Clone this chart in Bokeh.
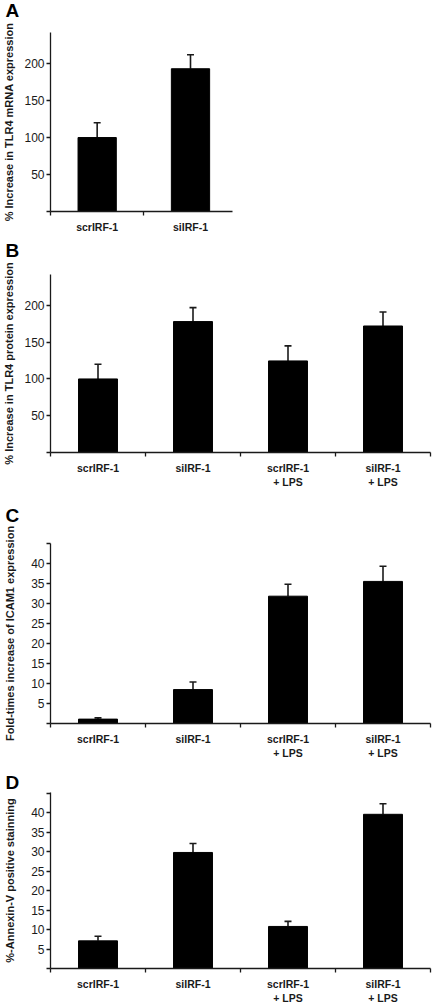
from bokeh.plotting import figure
from bokeh.models import FixedTicker, Whisker, TeeHead, ColumnDataSource, Range1d
from bokeh.layouts import column
from bokeh.embed import file_html
from bokeh.resources import INLINE
import numpy as np

# ---- data ----
labels_A = ["scrIRF-1", "siIRF-1"]
labels_4 = ["scrIRF-1", "siIRF-1", "scrIRF-1\n+ LPS", "siIRF-1\n+ LPS"]

tlr4_mrna = [100, 193]
tlr4_mrna_err = [120, 212]

tlr4_protein = [100, 178, 124.5, 172]
tlr4_protein_err = [120, 197, 145, 191]

icam1 = [1.1, 8.5, 31.9, 35.6]
icam1_err = [1.4, 10.4, 34.9, 39.4]

annexin = [7.1, 29.8, 10.8, 39.6]
annexin_err = [8.3, 32.1, 12.1, 42.3]

ticks_pct = [0, 50, 100, 150, 200]
ticks_fold = [0, 5, 10, 15, 20, 25, 30, 35, 40, 45]

FONT = "Liberation Sans"
INK = "#1a1a1a"


def panel(letter, labels, vals, errs, ylabel, y_end, yticks, hidden, width, height,
          mb_top, mb_bottom, x_end, lab_standoff, title_standoff, margin_top):
    n = len(labels)
    xs = np.arange(n) + 0.5
    p = figure(width=width, height=height, output_backend="svg", toolbar_location=None,
               x_range=Range1d(0, x_end), y_range=Range1d(0, y_end),
               min_border_left=45, min_border_right=width - 45 - (187 if n == 2 else 385),
               min_border_top=mb_top, min_border_bottom=mb_bottom,
               margin=(margin_top, 0, 0, 0))
    p.outline_line_color = None
    p.grid.visible = False
    p.background_fill_color = "white"
    p.border_fill_color = None

    p.title.text = letter
    p.title.align = "left"
    p.title.offset = -45
    p.title.standoff = title_standoff
    p.title.text_font = FONT
    p.title.text_font_style = "bold"
    p.title.text_font_size = "19px"
    p.title.text_color = "black"

    src = ColumnDataSource(dict(x=xs, v=vals, e=errs))
    p.vbar(x="x", top="v", bottom=0, width=0.41, source=src,
           fill_color="black", line_color="black")
    w = Whisker(base="x", lower="v", upper="e", source=src, dimension="height",
                line_color=INK, line_width=1.6,
                upper_head=TeeHead(size=7, line_color=INK, line_width=1.6),
                lower_head=None)
    p.add_layout(w)

    # x axis
    xa = p.xaxis[0]
    xa.ticker = FixedTicker(ticks=list(xs), minor_ticks=list(range(n + 1)))
    xa.major_label_overrides = {float(x): lab for x, lab in zip(xs, labels)}
    xa.major_tick_out = 0
    xa.major_tick_in = 0
    xa.minor_tick_out = 4
    xa.minor_tick_in = 0
    xa.major_label_standoff = 5
    xa.major_label_text_font = FONT
    xa.major_label_text_font_style = "bold"
    xa.major_label_text_font_size = "10.5px"
    xa.major_label_text_color = INK
    xa.axis_line_color = INK
    xa.axis_line_width = 1.3
    xa.minor_tick_line_color = INK
    xa.minor_tick_line_width = 1.3

    # y axis
    ya = p.yaxis[0]
    ya.ticker = FixedTicker(ticks=yticks, minor_ticks=[])
    ya.major_label_overrides = {t: "" for t in hidden}
    ya.major_tick_out = 4
    ya.major_tick_in = 0
    ya.major_label_standoff = 2
    ya.major_label_text_font = FONT
    ya.major_label_text_font_size = "12px"
    ya.major_label_text_color = INK
    ya.axis_line_color = INK
    ya.axis_line_width = 1.3
    ya.major_tick_line_color = INK
    ya.major_tick_line_width = 1.3
    ya.axis_label = ylabel
    ya.axis_label_text_font = FONT
    ya.axis_label_text_font_style = "bold"
    ya.axis_label_text_font_size = "11px"
    ya.axis_label_text_color = INK
    ya.axis_label_standoff = lab_standoff
    return p


pA = panel("A", labels_A, tlr4_mrna, tlr4_mrna_err, "% Increase in TLR4 mRNA expression",
           242, ticks_pct, [0], 236, 250, 45, 24, 1.95, 6, 24, -15)
pB = panel("B", labels_4, tlr4_protein, tlr4_protein_err, "% Increase in TLR4 protein expression",
           242, ticks_pct, [0], 434, 267, 49, 37, 4, 6, 28, -12)
pC = panel("C", labels_4, icam1, icam1_err, "Fold-times increase of ICAM1 expression",
           45.1, ticks_fold, [0, 45], 434, 277, 57, 37, 4, 12, 36, -6)
pD = panel("D", labels_4, annexin, annexin_err, "%-Annexin-V positive stainning",
           45.2, ticks_fold, [0, 45], 434, 237, 22, 37, 4, 12, 0, 8)

layout = column(pA, pB, pC, pD, spacing=0)
open("out.html", "w").write(file_html(layout, INLINE))
